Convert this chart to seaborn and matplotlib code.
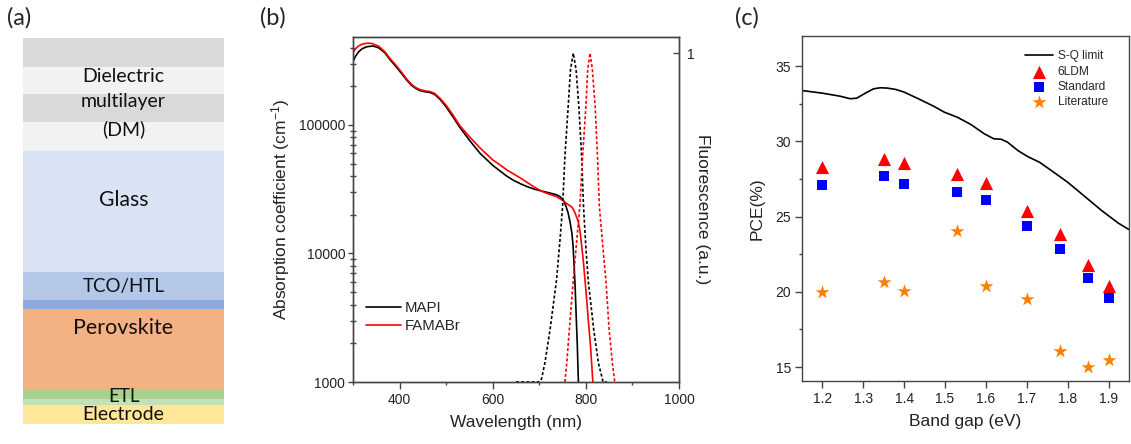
import numpy as np
import pandas as pd
import matplotlib
matplotlib.use("Agg")
import matplotlib.pyplot as plt
import seaborn as sns
from matplotlib.ticker import FixedLocator, FixedFormatter, NullFormatter

# ---------------- data ----------------
# (a) layer stack (top -> bottom), relative thickness
layer_names = ["DM-1", "DM-2", "DM-3", "DM-4", "Glass", "TCO/HTL", "HTL", "Perovskite", "ETL-1", "ETL-2", "Electrode"]
layer_thick = [29, 27, 28, 29, 121, 28, 9, 81, 9, 6, 19]
layer_colors = ["#D9D9D9", "#F2F2F2", "#D9D9D9", "#F2F2F2", "#DAE3F3", "#B4C7E7",
                "#8FAADC", "#F4B183", "#A9D18E", "#C5E0B4", "#FFE699"]
stack_labels = ["Dielectric", "multilayer", "(DM)", "Glass", "TCO/HTL", "Perovskite", "ETL", "Electrode"]

# (b) absorption coefficient (cm^-1)
abs_wl_mapi = [300, 305, 312, 320, 330, 343, 355, 368, 380, 392, 404, 415, 425, 435, 444, 455, 465, 475,
               487, 500, 515, 530, 550, 573, 600, 615, 630, 645, 660, 675, 690, 705, 720, 737, 745, 752,
               757, 762, 766, 770, 772.5, 774.5, 777, 779, 781.5, 784]
abs_mapi = [310000, 340000, 370000, 392000, 406000, 411000, 398000, 365000, 320000, 285000, 252000, 224000,
            204000, 192000, 185000, 181000, 179000, 173000, 158000, 138000, 115000, 95000, 76000, 60000,
            48500, 44000, 40000, 37000, 34800, 33000, 31600, 30600, 29700, 28600, 27600, 25800, 23500,
            20600, 17600, 14400, 11500, 8400, 5500, 3440, 2000, 1000]
abs_wl_famabr = [300, 305, 312, 320, 330, 340, 355, 368, 380, 392, 404, 415, 425, 435, 444, 455, 465, 475,
                 487, 500, 515, 530, 550, 573, 600, 615, 630, 645, 660, 675, 690, 705, 720, 737, 752, 762,
                 770, 776, 781, 784, 787.5, 791, 794.5, 798, 801.5, 805, 810, 815]
abs_famabr = [365000, 390000, 412000, 425000, 432000, 431000, 410000, 372000, 327000, 292000, 258000, 228000,
              208000, 195000, 188000, 184000, 182000, 176000, 161000, 142000, 119000, 98000, 81000, 66000,
              53500, 49000, 44700, 41500, 38500, 35500, 32700, 30500, 29000, 27700, 25600, 24000, 23000,
              21000, 18800, 17500, 14800, 11500, 8800, 6300, 4500, 3100, 1900, 1000]
# (b) normalised fluorescence
pl_wl_mapi = [650, 700, 705, 712, 723, 737, 745, 750, 755, 762, 767, 773, 779, 785, 791, 795, 800, 805,
              817, 827, 837, 845]
pl_mapi = [0, 0, 0.01, 0.058, 0.158, 0.31, 0.44, 0.533, 0.685, 0.837, 0.95, 1.0, 0.95, 0.837, 0.685, 0.533,
           0.41, 0.31, 0.158, 0.058, 0.0, 0.0]
pl_wl_famabr = [755, 759, 764.5, 773, 781, 787, 793, 800, 804, 809, 814, 820, 825, 829, 836, 843, 850, 857, 862]
pl_famabr = [0, 0.058, 0.158, 0.31, 0.44, 0.533, 0.685, 0.837, 0.95, 1.0, 0.95, 0.837, 0.685, 0.533, 0.42,
             0.31, 0.158, 0.058, 0]

# (c) efficiencies
bandgap = [1.2, 1.35, 1.4, 1.53, 1.6, 1.7, 1.78, 1.85, 1.9]
pce_6ldm = [28.28, 28.84, 28.57, 27.84, 27.24, 25.4, 23.85, 21.8, 20.4]
pce_standard = [27.13, 27.7, 27.15, 26.64, 26.1, 24.36, 22.85, 20.92, 19.57]
pce_literature = [20.01, 20.63, 20.08, 24.02, 20.41, 19.5, 16.09, 15.02, 15.49]
sq_bandgap = [1.149, 1.2, 1.243, 1.268, 1.284, 1.305, 1.325, 1.342, 1.358, 1.379, 1.4, 1.44, 1.473, 1.498,
              1.53, 1.563, 1.596, 1.619, 1.637, 1.653, 1.678, 1.702, 1.731, 1.76, 1.8, 1.842, 1.883, 1.924, 1.954]
sq_pce = [33.38, 33.2, 33.0, 32.83, 32.87, 33.2, 33.49, 33.56, 33.54, 33.45, 33.27, 32.76, 32.32, 31.94,
          31.6, 31.12, 30.5, 30.17, 30.14, 29.94, 29.39, 28.99, 28.61, 28.06, 27.28, 26.33, 25.4, 24.56, 24.07]

# ---------------- style ----------------
sns.set_theme(style="ticks")
plt.rcParams['font.family'] = ['Liberation Sans', 'DejaVu Sans']
plt.rcParams['mathtext.fontset'] = 'custom'
plt.rcParams['mathtext.rm'] = 'Liberation Sans'
plt.rcParams['mathtext.it'] = 'Liberation Sans'
plt.rcParams['mathtext.default'] = 'regular'
SP = "#444444"
plt.rcParams.update({
    'axes.edgecolor': SP, 'axes.linewidth': 1.0,
    'xtick.color': SP, 'ytick.color': SP,
    'xtick.labelcolor': '#222222', 'ytick.labelcolor': '#222222',
    'axes.labelcolor': '#222222',
})

W, H = 1131, 444
fig = plt.figure(figsize=(W / 100, H / 100), dpi=100)

CAL = ['Lato', 'DejaVu Sans']

# ---------------- (a) ----------------
axa = fig.add_axes([23 / W, 1 - 424 / H, 201 / W, 386 / H])
bottoms = np.concatenate([[0], np.cumsum(layer_thick)[:-1]])
axa.bar(x=[0.5] * len(layer_thick), height=layer_thick, bottom=bottoms, width=1.0,
        color=layer_colors, linewidth=0, align='center')
axa.set_xlim(0, 1)
axa.set_ylim(sum(layer_thick), 0)
axa.axis('off')
label_y = [38, 64, 91, 162, 248, 290, 358, 376]
label_fs = [14, 14, 14, 15.2, 13.5, 15.5, 13.5, 14]
for t, yy, fs in zip(stack_labels, label_y, label_fs):
    axa.text(0.5, yy, t, ha='center', va='center', fontsize=fs, family=CAL, color='#111111')

fig.text(7 / W, 1 - 18 / H, "(a)", fontsize=17, family=CAL, va='center', ha='left')
fig.text(260 / W, 1 - 18 / H, "(b)", fontsize=17, family=CAL, va='center', ha='left')
fig.text(735 / W, 1 - 18 / H, "(c)", fontsize=17, family=CAL, va='center', ha='left')

# ---------------- (b) ----------------
axb = fig.add_axes([353 / W, 1 - 382 / H, 326 / W, 345 / H])
df_abs = pd.concat([
    pd.DataFrame({'wl': abs_wl_mapi, 'alpha': abs_mapi, 'sample': 'MAPI'}),
    pd.DataFrame({'wl': abs_wl_famabr, 'alpha': abs_famabr, 'sample': 'FAMABr'}),
])
sns.lineplot(data=df_abs, x='wl', y='alpha', hue='sample', palette={'MAPI': 'black', 'FAMABr': 'red'},
             estimator=None, sort=False, lw=1.2, ax=axb)
axb.set_yscale('log')
axb.set_xlim(300, 1000)
axb.set_ylim(1000, 483000)
axb.yaxis.set_major_locator(FixedLocator([1000, 10000, 100000]))
axb.yaxis.set_major_formatter(FixedFormatter(["1000", "10000", "100000"]))
minor = [m * 10 ** e for e in (3, 4, 5) for m in range(2, 10) if m * 10 ** e <= 483000]
axb.yaxis.set_minor_locator(FixedLocator(minor))
axb.yaxis.set_minor_formatter(NullFormatter())
axb.xaxis.set_major_locator(FixedLocator([400, 600, 800, 1000]))
axb.xaxis.set_minor_locator(FixedLocator([300, 500, 700, 900]))
axb.tick_params(axis='x', which='major', direction='out', length=4.8, width=1, labelsize=10, pad=3)
axb.tick_params(axis='x', which='minor', direction='out', length=2.2, width=1)
axb.tick_params(axis='y', which='major', direction='out', length=3.6, width=1, labelsize=10, pad=2)
axb.tick_params(axis='y', which='minor', direction='inout', length=4, width=1)
axb.set_xlabel("Wavelength (nm)", fontsize=12.5, labelpad=6)
axb.set_ylabel("Absorption coefficient (cm$^{-1}$)", fontsize=12.5, labelpad=5)
for s in axb.spines.values():
    s.set_visible(True)
leg = axb.legend(loc='center left', bbox_to_anchor=(0.04, 0.188), frameon=False, fontsize=10.8,
                 handlelength=2.3, handletextpad=0.3, labelspacing=0.3, borderaxespad=0, borderpad=0)

axb2 = axb.twinx()
df_pl = pd.concat([
    pd.DataFrame({'wl': pl_wl_mapi, 'pl': pl_mapi, 'sample': 'MAPI'}),
    pd.DataFrame({'wl': pl_wl_famabr, 'pl': pl_famabr, 'sample': 'FAMABr'}),
])
sns.lineplot(data=df_pl, x='wl', y='pl', hue='sample', palette={'MAPI': 'black', 'FAMABr': 'red'},
             estimator=None, sort=False, lw=1.2, linestyle=(0, (1.8, 1.3)), legend=False, ax=axb2)
axb2.set_ylim(0, 1.049)
axb2.set_xlim(300, 1000)
axb2.yaxis.set_major_locator(FixedLocator([1]))
axb2.yaxis.set_major_formatter(FixedFormatter(["1"]))
axb2.tick_params(axis='y', which='major', direction='in', length=4, width=1, labelsize=10, pad=6)
axb2.set_ylabel("Fluorescence (a.u.)", fontsize=12.5, rotation=270, labelpad=0, va='bottom')

# ---------------- (c) ----------------
axc = fig.add_axes([802 / W, 1 - 381 / H, 327 / W, 345 / H])
sns.lineplot(x=sq_bandgap, y=sq_pce, color='black', lw=1.2, estimator=None, sort=False,
             label='S-Q limit', ax=axc)
sns.scatterplot(x=bandgap, y=pce_6ldm, marker='^', color='#FF0000', s=90, linewidth=0, label='6LDM', ax=axc)
sns.scatterplot(x=bandgap, y=pce_standard, marker='s', color='#0000FF', s=55, linewidth=0, label='Standard', ax=axc)
sns.scatterplot(x=bandgap, y=pce_literature, marker='*', color='#FF8000', s=110, linewidth=0, label='Literature', ax=axc)
axc.set_xlim(1.15, 1.95)
axc.set_ylim(14.07, 37.0)
axc.xaxis.set_major_locator(FixedLocator([1.2, 1.3, 1.4, 1.5, 1.6, 1.7, 1.8, 1.9]))
axc.yaxis.set_major_locator(FixedLocator([15, 20, 25, 30, 35]))
axc.yaxis.set_minor_locator(FixedLocator([17.5, 22.5, 27.5, 32.5]))
axc.tick_params(axis='both', which='major', direction='out', length=4.8, width=1, labelsize=10, pad=3)
axc.tick_params(axis='y', which='minor', direction='out', length=2.5, width=1)
axc.set_xlabel("Band gap (eV)", fontsize=12.5, labelpad=6)
axc.set_ylabel("PCE(%)", fontsize=12.5, labelpad=8)
for s in axc.spines.values():
    s.set_visible(True)
axc.legend(loc='upper left', bbox_to_anchor=(0.682, 0.958), frameon=False, fontsize=8.6,
           handlelength=2.33, handletextpad=0.4, labelspacing=0.27, borderaxespad=0, borderpad=0)

fig.savefig("out.png", dpi=100)
